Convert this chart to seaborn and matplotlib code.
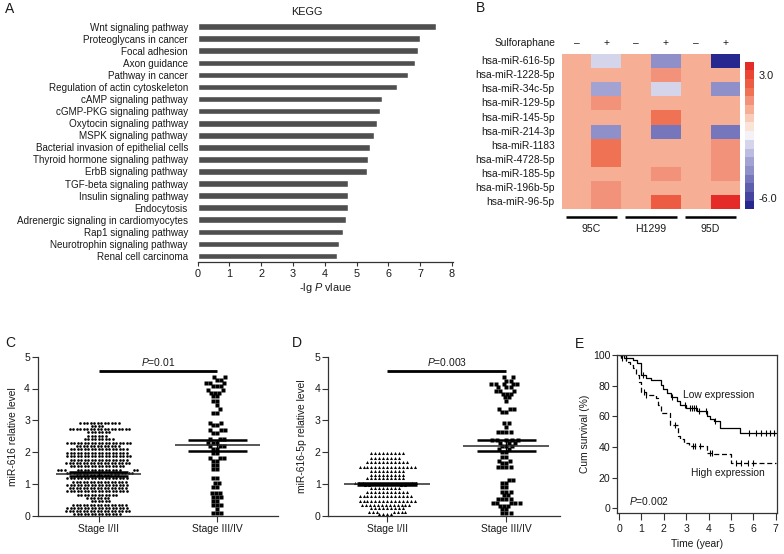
import numpy as np
import pandas as pd
import matplotlib
matplotlib.use("Agg")
import matplotlib.pyplot as plt
import seaborn as sns
from matplotlib.colors import ListedColormap

# ---------------- data ----------------
kegg_terms = ["Wnt signaling pathway", "Proteoglycans in cancer", "Focal adhesion",
              "Axon guidance", "Pathway in cancer", "Regulation of actin cytoskeleton",
              "cAMP signaling pathway", "cGMP-PKG signaling pathway", "Oxytocin signaling pathway",
              "MSPK signaling pathway", "Bacterial invasion of epithelial cells",
              "Thyroid hormone signaling pathway", "ErbB signaling pathway",
              "TGF-beta signaling pathway", "Insulin signaling pathway", "Endocytosis",
              "Adrenergic signaling in cardiomyocytes", "Rap1 signaling pathway",
              "Neurotrophin signaling pathway", "Renal cell carcinoma"]
kegg_values = [7.51, 7.0, 6.93, 6.82, 6.6, 6.26, 5.8, 5.73, 5.63, 5.55, 5.41, 5.36, 5.33,
               4.73, 4.72, 4.72, 4.68, 4.57, 4.43, 4.37]

mirnas = ["hsa-miR-616-5p", "hsa-miR-1228-5p", "hsa-miR-34c-5p", "hsa-miR-129-5p",
          "hsa-miR-145-5p", "hsa-miR-214-3p", "hsa-miR-1183", "hsa-miR-4728-5p",
          "hsa-miR-185-5p", "hsa-miR-196b-5p", "hsa-miR-96-5p"]
heat_columns = ["95C -", "95C +", "H1299 -", "H1299 +", "95D -", "95D +"]
treatment_signs = ["\u2013", "+", "\u2013", "+", "\u2013", "+"]
cell_lines = ["95C", "H1299", "95D"]
heat_values = [
    [0.5, -2.0, 0.5, -3.9, 0.5, -6.5],
    [0.5, 0.5, 0.5, 1.1, 0.5, 0.5],
    [0.5, -3.3, 0.5, -2.0, 0.5, -3.9],
    [0.5, 1.1, 0.5, 0.5, 0.5, 0.5],
    [0.5, 0.5, 0.5, 1.8, 0.5, 0.5],
    [0.5, -3.9, 0.5, -4.6, 0.5, -4.6],
    [0.5, 1.8, 0.5, 0.5, 0.5, 1.1],
    [0.5, 1.8, 0.5, 0.5, 0.5, 1.1],
    [0.5, 0.5, 0.5, 1.1, 0.5, 1.1],
    [0.5, 1.1, 0.5, 0.5, 0.5, 0.5],
    [0.5, 1.1, 0.5, 2.4, 0.5, 3.7],
]
band_colors_top_down = ['#e52b28', '#ea4633', '#ed5c42', '#ef7254', '#f3927a', '#f6ae94',
                        '#f9cbb9', '#fbe3d8', '#f4f2f7', '#d4d4eb', '#bcbce0', '#a2a2d3',
                        '#8f8fc9', '#7676bc', '#5e5eae', '#4545a0', '#26288f']

stages = ["Stage I/II", "Stage III/IV"]
# Panel C: miR-616 (rows of dots: value, count)
c_early_vals = [2.93, 2.83, 2.73, 2.63, 2.52, 2.41, 2.30, 2.19, 2.09, 1.98, 1.87, 1.76, 1.65,
                1.55, 1.44, 1.35, 1.31, 1.27, 1.17, 1.07, 0.97, 0.87, 0.77, 0.66, 0.55, 0.45,
                0.35, 0.25, 0.15, 0.05]
c_early_counts = [12, 4, 18, 7, 6, 9, 19, 13, 17, 18, 19, 17, 19,
                  16, 18, 7, 7, 6, 18, 16, 18, 17, 18, 12, 7, 6,
                  16, 18, 19, 14]
c_late_vals = [4.35, 4.27, 4.17, 4.08, 3.95, 3.87, 3.76, 3.62, 3.48, 3.34, 3.24, 2.93, 2.85,
               2.69, 2.61, 2.40, 2.30, 2.20, 2.10, 1.96, 1.83, 1.73, 1.59, 1.46, 1.18,
               1.02, 0.91, 0.72, 0.60, 0.47, 0.34, 0.20, 0.07]
c_late_counts = [2, 2, 3, 3, 2, 3, 2, 2, 1, 1, 2, 2, 2,
                 3, 2, 3, 3, 3, 2, 2, 3, 2, 2, 2, 2,
                 2, 2, 3, 3, 2, 3, 1, 3]
c_means = [1.31, 2.21]
c_sems = [0.05, 0.17]

# Panel D: miR-616-5p
d_early_vals = [1.98, 1.80, 1.68, 1.54, 1.42, 1.29, 1.17, 1.04, 1.00, 0.96, 0.86, 0.74, 0.61,
                0.47, 0.35, 0.24, 0.13, 0.04]
d_early_counts = [9, 8, 11, 15, 9, 9, 10, 5, 7, 4, 8, 11, 14, 15, 13, 9, 7, 4]
d_late_vals = [4.35, 4.25, 4.14, 4.04, 3.93, 3.83, 3.72, 3.60, 3.34, 3.27, 2.90, 2.80, 2.64,
               2.38, 2.29, 2.19, 2.10, 2.01, 1.85, 1.73, 1.65, 1.52, 1.12, 1.02, 0.89, 0.76,
               0.65, 0.54, 0.41, 0.31, 0.20, 0.07]
d_late_counts = [2, 2, 5, 3, 3, 3, 2, 1, 3, 2, 2, 1, 4,
                 5, 3, 3, 2, 2, 2, 2, 2, 4, 2, 2, 2, 3,
                 2, 4, 5, 3, 2, 3]
d_means = [0.99, 2.20]
d_sems = [0.03, 0.165]

# Panel E: Kaplan-Meier steps
low_time = [0, 0.32, 0.62, 0.81, 0.99, 1.2, 1.43, 1.87, 1.95, 2.14, 2.3, 2.6, 2.73, 2.98,
            3.5, 3.94, 4.05, 4.23, 4.5, 5.41, 7.0]
low_surv = [100, 98, 96.7, 94.5, 87, 85, 83.4, 80.5, 77.9, 75, 72.8, 70, 67.3, 65.7,
            63.5, 60.2, 58.4, 56.9, 52.4, 49.1, 49.1]
high_time = [0, 0.07, 0.32, 0.47, 0.62, 0.77, 0.91, 0.99, 1.2, 1.65, 1.73, 1.87, 2.29,
             2.54, 2.61, 2.73, 2.9, 3.13, 3.79, 3.94, 4.23, 4.99, 7.0]
high_surv = [100, 97.8, 95.6, 93.4, 91.2, 87.2, 82.3, 76.1, 73.9, 71.7, 67.3, 62, 54.6,
             54, 47.3, 45.1, 42.9, 40.7, 40.3, 36.3, 35.4, 29.6, 29.6]
low_censor = [0.1, 0.2, 1.05, 2.35, 2.95, 3.15, 3.25, 3.35, 3.45, 3.55, 3.9, 4.3, 5.8,
              6.1, 6.35, 6.55, 6.75, 6.9]
high_censor = [0.15, 0.3, 1.1, 1.22, 2.5, 3.3, 3.4, 3.6, 4.05, 4.15, 5.2, 5.45, 5.75, 6.0]

# ---------------- style ----------------
sns.set_theme(style="white")
plt.rcParams['font.family'] = ['Liberation Sans', 'DejaVu Sans']
plt.rcParams['axes.unicode_minus'] = False
plt.rcParams['mathtext.fontset'] = 'custom'
plt.rcParams['mathtext.it'] = 'Liberation Sans:italic'
plt.rcParams['mathtext.rm'] = 'Liberation Sans'
TXT = '#1a1a1a'
SP = '#333333'

W, H = 784, 554
fig = plt.figure(figsize=(7.84, 5.54), dpi=100)


def box(l, t, r, b):
    return [l / W, 1 - b / H, (r - l) / W, (b - t) / H]


def ftext(x, y, s, **kw):
    kw.setdefault('ha', 'center')
    kw.setdefault('va', 'center')
    kw.setdefault('color', TXT)
    fig.text(x / W, 1 - y / H, s, **kw)


def style_spines(ax, show):
    for k, sp in ax.spines.items():
        sp.set_visible(k in show)
        sp.set_color(SP)
        sp.set_linewidth(0.9)


# ---------------- Panel A ----------------
axA = fig.add_axes(box(197.7, 20.6, 453, 262))
sns.barplot(x=kegg_values, y=kegg_terms, orient='h', color='#4f4f4f', saturation=1,
            width=0.55, ax=axA)
axA.set_xlim(0, 8.03)
axA.set_ylim(len(kegg_terms) - 0.5, -0.5)
style_spines(axA, ['bottom'])
axA.set_xticks(range(9))
axA.tick_params(axis='x', bottom=True, length=3, width=0.8, color=SP, labelsize=7.8,
                pad=2, labelcolor=TXT)
axA.tick_params(axis='y', left=False, length=0, labelsize=7.1, pad=7, labelcolor=TXT)
axA.set_xlabel(r'-lg $\mathit{P}$ vlaue', fontsize=7.8, color=TXT, va='center')
axA.xaxis.set_label_coords(0.5, -(288 - 262) / 241.4)
axA.set_ylabel('')
ftext(306.7, 12, 'KEGG', fontsize=7.8)

# ---------------- Panel B ----------------
axB = fig.add_axes(box(561.7, 54, 740.3, 209.3))
caxB = fig.add_axes(box(745, 61.7, 754, 209.3))
heat_df = pd.DataFrame(heat_values, index=mirnas, columns=heat_columns)
cmap = ListedColormap(band_colors_top_down[::-1])
sns.heatmap(heat_df, ax=axB, cbar_ax=caxB, cmap=cmap, vmin=-6.8, vmax=4.0,
            xticklabels=False, yticklabels=True, linewidths=0)
axB.set_ylabel('')
axB.set_xlabel('')
axB.tick_params(axis='y', left=False, length=0, labelsize=7.4, pad=5, labelcolor=TXT)
plt.setp(axB.get_yticklabels(), rotation=0)
caxB.set_yticks([3.0, -6.0])
caxB.set_yticklabels(['3.0', '-6.0'])
caxB.tick_params(axis='y', length=0, labelsize=7.8, pad=3, labelcolor=TXT, right=False)
for sp in caxB.spines.values():
    sp.set_visible(False)
tr = axB.get_xaxis_transform()
axB.text(-0.2, 1.071, 'Sulforaphane', transform=tr, ha='right', va='center',
         fontsize=7.4, color=TXT)
for i, s in enumerate(treatment_signs):
    axB.text(i + 0.5, 1.071, s, transform=tr, ha='center', va='center', fontsize=7.4,
             color=TXT)
for g, name in enumerate(cell_lines):
    axB.plot([2 * g + 0.14, 2 * g + 1.86], [-0.048, -0.048], transform=tr, color='black',
             lw=1.8, clip_on=False, solid_capstyle='butt')
    axB.text(2 * g + 1.0, -0.127, name, transform=tr, ha='center', va='center',
             fontsize=7.6, color=TXT)


# ---------------- Panels C & D ----------------
def dot_panel(ax, early_vals, early_counts, late_vals, late_counts, early_marker,
              early_size, means, sems, ylabel, ptext, xlim):
    early = pd.DataFrame({'stage': stages[0],
                          'level': np.repeat(early_vals, early_counts)})
    late = pd.DataFrame({'stage': stages[1],
                         'level': np.repeat(late_vals, late_counts)})
    sns.swarmplot(data=early, x='stage', y='level', order=stages, marker=early_marker,
                  size=early_size, linewidth=0.5, edgecolor=(1, 1, 1, 0), color='black',
                  ax=ax, warn_thresh=1.0, clip_on=False)
    sns.swarmplot(data=late, x='stage', y='level', order=stages, marker='s',
                  size=2.2, linewidth=0.7, edgecolor=(1, 1, 1, 0), color='black',
                  ax=ax, warn_thresh=1.0, clip_on=False)
    for i, (m, s) in enumerate(zip(means, sems)):
        ax.hlines(m, i - 0.36, i + 0.36, color='#2a2a2a', lw=1.1, zorder=4)
        ax.hlines([m - s, m + s], i - 0.25, i + 0.25, color='black', lw=1.8, zorder=4)
        ax.vlines(i, m - s, m + s, color='black', lw=1.0, zorder=4)
    ax.plot([0, 1], [4.55, 4.55], color='black', lw=2.0, solid_capstyle='butt')
    ax.text(0.5, 4.84, ptext, ha='center', va='center', fontsize=7.4, color=TXT)
    ax.set_xlim(*xlim)
    ax.set_ylim(0, 5)
    ax.set_yticks(range(6))
    style_spines(ax, ['left', 'bottom'])
    ax.tick_params(axis='y', left=True, length=4, width=0.8, color=SP, labelsize=7.6,
                   pad=1.5, labelcolor=TXT)
    ax.tick_params(axis='x', bottom=True, length=4, width=0.8, color=SP, labelsize=7.4,
                   pad=2, labelcolor=TXT)
    ax.set_xlabel('')
    ax.set_ylabel(ylabel, fontsize=7.4, color=TXT, va='center')


axC = fig.add_axes(box(37.7, 356.7, 277.7, 515.7))
dot_panel(axC, c_early_vals, c_early_counts, c_late_vals, c_late_counts, 'o', 1.9,
          c_means, c_sems, 'miR-616 relative level', r'$\mathit{P}$=0.01', (-0.514, 1.51))
axC.yaxis.set_label_coords((12.7 - 37.7) / 240, 0.5)

axD = fig.add_axes(box(328.3, 356.7, 560, 515.7))
dot_panel(axD, d_early_vals, d_early_counts, d_late_vals, d_late_counts, '^', 2.2,
          d_means, d_sems, 'miR-616-5p relative level', r'$\mathit{P}$=0.003', (-0.494, 1.45))
axD.yaxis.set_label_coords((302 - 328.3) / 231.7, 0.5)

# ---------------- Panel E ----------------
axE = fig.add_axes(box(617.3, 355, 776.5, 513.3))
sns.lineplot(x=low_time, y=low_surv, drawstyle='steps-post', color='black', lw=0.9,
             ax=axE, estimator=None)
sns.lineplot(x=high_time, y=high_surv, drawstyle='steps-post', color='black', lw=0.9,
             ax=axE, estimator=None, linestyle=(0, (4, 2.2)))


def step_value(times, surv, t):
    idx = np.searchsorted(times, t, side='right') - 1
    return np.asarray(surv)[idx]


sns.scatterplot(x=low_censor, y=step_value(low_time, low_surv, low_censor), marker='|',
                s=14, color='black', linewidth=0.8, ax=axE)
sns.scatterplot(x=high_censor, y=step_value(high_time, high_surv, high_censor), marker='|',
                s=14, color='black', linewidth=0.8, ax=axE)
axE.set_xlim(-0.08, 7.03)
axE.set_ylim(-3.3, 100)
axE.set_xticks(range(8))
axE.set_yticks(range(0, 101, 20))
style_spines(axE, ['left', 'bottom', 'top', 'right'])
axE.tick_params(axis='y', left=True, length=3.5, width=0.8, color=SP,
                labelsize=7.6, pad=1.5, labelcolor=TXT)
axE.tick_params(axis='x', bottom=True, length=5, width=0.8, color=SP,
                labelsize=7.6, pad=2.5, labelcolor=TXT)
axE.set_xlabel('Time (year)', fontsize=7.4, color=TXT, va='center')
axE.xaxis.set_label_coords(0.5, -(544 - 513.3) / 158.3)
axE.set_ylabel('Cum survival (%)', fontsize=7.4, color=TXT, va='center')
axE.yaxis.set_label_coords((585 - 617.3) / 159.2, 0.5)
axE.text(4.44, 74.1, 'Low expression', ha='center', va='center', fontsize=7.4, color=TXT)
axE.text(4.88, 22.8, 'High expression', ha='center', va='center', fontsize=7.4, color=TXT)
axE.text(1.34, 5.0, r'$\mathit{P}$=0.002', ha='center', va='center', fontsize=7.4, color=TXT)

# ---------------- panel letters ----------------
for (x, y, s) in [(10, 9, 'A'), (481, 8.5, 'B'), (10, 343, 'C'), (297, 343, 'D'),
                  (579, 343.5, 'E')]:
    ftext(x, y, s, fontsize=10)

fig.savefig('out.png', dpi=100, facecolor='white')
